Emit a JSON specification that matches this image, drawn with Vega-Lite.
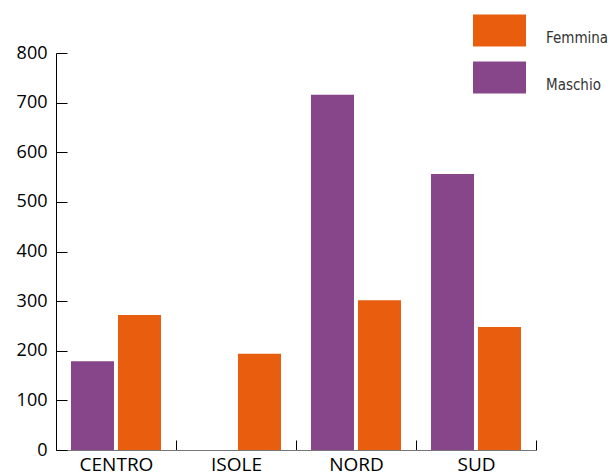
{
  "$schema": "https://vega.github.io/schema/vega-lite/v6.json",
  "width": 480,
  "height": 397,
  "autosize": "none",
  "padding": {"left": 56, "top": 53, "right": 76, "bottom": 25},
  "background": "white",
  "data": {
    "values": [
      {"area": "CENTRO", "sesso": "Maschio", "valore": 179},
      {"area": "CENTRO", "sesso": "Femmina", "valore": 272},
      {"area": "ISOLE", "sesso": "Maschio", "valore": 0},
      {"area": "ISOLE", "sesso": "Femmina", "valore": 194},
      {"area": "NORD", "sesso": "Maschio", "valore": 716},
      {"area": "NORD", "sesso": "Femmina", "valore": 302},
      {"area": "SUD", "sesso": "Maschio", "valore": 556},
      {"area": "SUD", "sesso": "Femmina", "valore": 248}
    ]
  },
  "mark": {"type": "bar"},
  "encoding": {
    "x": {
      "field": "area",
      "type": "nominal",
      "title": null,
      "scale": {"paddingInner": 0, "paddingOuter": 0},
      "axis": {
        "labelAngle": 0,
        "labelFont": "Open Sans",
        "labelFontSize": 19,
        "labelColor": "#000",
        "tickBand": "extent",
        "tickSize": -10,
        "tickColor": "#000",
        "domainColor": "#777",
        "labelPadding": 15
      }
    },
    "xOffset": {
      "field": "sesso",
      "type": "nominal",
      "sort": ["Maschio", "Femmina"],
      "scale": {"paddingInner": 0.085, "paddingOuter": 0.319}
    },
    "y": {
      "field": "valore",
      "type": "quantitative",
      "title": null,
      "scale": {"domain": [0, 800], "nice": false},
      "axis": {
        "values": [0, 100, 200, 300, 400, 500, 600, 700, 800],
        "grid": false,
        "labelFont": "Open Sans",
        "labelFontSize": 18,
        "labelColor": "#000",
        "tickSize": -11,
        "tickColor": "#000",
        "domainColor": "#000",
        "labelPadding": 20
      }
    },
    "color": {
      "field": "sesso",
      "type": "nominal",
      "title": null,
      "scale": {"domain": ["Femmina", "Maschio"], "range": ["#E95D0F", "#874689"]},
      "legend": {
        "orient": "none",
        "legendX": 417,
        "legendY": -49,
        "padding": 0,
        "symbolType": "M-1,-0.6H1V0.6H-1Z",
        "symbolSize": 2809,
        "symbolStrokeWidth": 0,
        "symbolOpacity": 1,
        "rowPadding": 4,
        "labelOffset": 20,
        "labelFont": "DejaVu Sans Condensed",
        "labelFontSize": 15,
        "labelColor": "#333",
        "labelBaseline": "top"
      }
    }
  },
  "config": {"view": {"stroke": null}}
}
